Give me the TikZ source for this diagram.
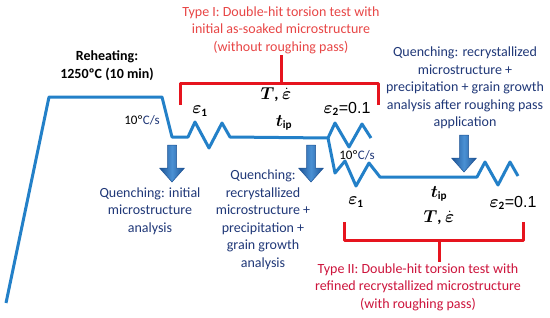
\documentclass[tikz,border=0pt]{standalone}
\usepackage{fontspec}
\setmainfont{Carlito}
\newfontfamily\arialfont{Liberation Sans}
\usepackage{amsmath}
\usetikzlibrary{positioning}
\definecolor{curveblue}{RGB}{35,128,200}
\definecolor{bracketred}{RGB}{230,20,30}
\definecolor{typeonered}{RGB}{232,70,70}
\definecolor{typetwored}{RGB}{205,20,60}
\definecolor{navy}{RGB}{32,56,120}
\definecolor{arrowdark}{RGB}{28,82,148}
\definecolor{arrowlight}{RGB}{75,145,212}

\begin{document}
\begin{tikzpicture}[x=1pt, y=-1pt, line join=round,
  curve/.style={draw=curveblue, line width=3pt},
  bracket/.style={draw=bracketred, line width=3pt},
  note/.style={text=navy, align=center, font=\fontsize{14}{17.5}\selectfont, inner sep=1pt},
  mlabel/.style={font=\fontsize{16}{18}\selectfont, inner sep=1pt},
  rate/.style={font=\fontsize{13}{15}\selectfont, inner sep=1pt},
  quench/.style={draw=arrowdark, line width=0.5pt, left color=arrowdark, right color=arrowdark, middle color=arrowlight}]
  \useasboundingbox[fill=white] (0,0) rectangle (550,317);

  % thermal cycles
  \draw[curve] (6,303) -- (49,97) -- (162,97) -- (172,137) -- (188,137)
    -- (195,122) -- (209,148) -- (222,123) -- (230,137) -- (328,138) coordinate (split)
    -- (335,123) -- (349,147) -- (362,124) -- (371,138);
  \draw[curve] (split) -- (335,173) -- (345,161) -- (356,186) -- (369,163) -- (380,177)
    -- (477,177) -- (485,162) -- (498,185) -- (510,162) -- (518,176);

  % quenching arrows
  \foreach \x/\top/\tip in {172/145/182, 311/145/182, 464/135/172}
    \draw[quench] (\x-4.5,\top) -- (\x+4.5,\top) -- (\x+4.5,\tip-14) -- (\x+12.5,\tip-14)
      -- (\x,\tip) -- (\x-12.5,\tip-14) -- (\x-4.5,\tip-14) -- cycle;

  % brackets
  \draw[bracket] (180,105) -- (180,83) -- (378,83) -- (378,105);
  \draw[bracket] (344,222) -- (344,240) -- (523,240) -- (523,222);
  \coordinate (typeIbar) at (281,83);
  \coordinate (typeIIbar) at (439,240);

  % labels on the cycles
  \node[font=\fontsize{14}{18}\selectfont\bfseries, align=center] (reheat) at (107,66) {Reheating:\\1250ºC (10 min)};
  \node[rate] (rateA) at (142,120) {10º\textcolor{navy}{C/s}};
  \node[rate] (rateB) at (357,155) {10º\textcolor{navy}{C/s}};
  \node[mlabel] (epsoneA) at (200,111) {$\boldsymbol{\varepsilon}_{\mathbf{1}}$};
  \node[mlabel] (TepsA) at (276,95) {$\boldsymbol{T}$\textbf{,} $\dot{\boldsymbol{\varepsilon}}$};
  \node[mlabel] (tipA) at (284,123) {$\boldsymbol{t}_{\mathbf{ip}}$};
  \node[mlabel] (epstwoA) at (347,109) {$\boldsymbol{\varepsilon}_{\mathbf{2}}${\arialfont =0.1}};
  \node[mlabel] (epsoneB) at (356,202) {$\boldsymbol{\varepsilon}_{\mathbf{1}}$};
  \node[mlabel] (tipB) at (439,194) {$\boldsymbol{t}_{\mathbf{ip}}$};
  \node[mlabel] (TepsB) at (439,218) {$\boldsymbol{T}$\textbf{,} $\dot{\boldsymbol{\varepsilon}}$};
  \node[mlabel] (epstwoB) at (513,203) {$\boldsymbol{\varepsilon}_{\mathbf{2}}${\arialfont =0.1}};

  % test types
  \node[note, text=typeonered] (typeI) at (281,30) {Type I: Double-hit torsion test with\\initial as-soaked microstructure\\(without roughing pass)};
  \node[note, text=typetwored] (typeII) at (418,287) {Type II: Double-hit torsion test with\\refined recrystallized microstructure\\(with roughing pass)};
  \draw[bracket] (typeIbar) -- (typeIbar |- typeI.south);
  \draw[bracket] (typeIIbar) -- (typeIIbar |- typeII.north);

  % quenching notes
  \node[note] (qinit) at (150,211) {Quenching: initial\\microstructure\\analysis};
  \node[note] (qrex) at (263,220) {Quenching:\\recrystallized\\microstructure +\\precipitation +\\grain growth\\analysis};
  \node[note] (qrough) at (465,88) {Quenching: recrystallized\\microstructure +\\precipitation + grain growth\\analysis after roughing pass\\application};
\end{tikzpicture}
\end{document}
